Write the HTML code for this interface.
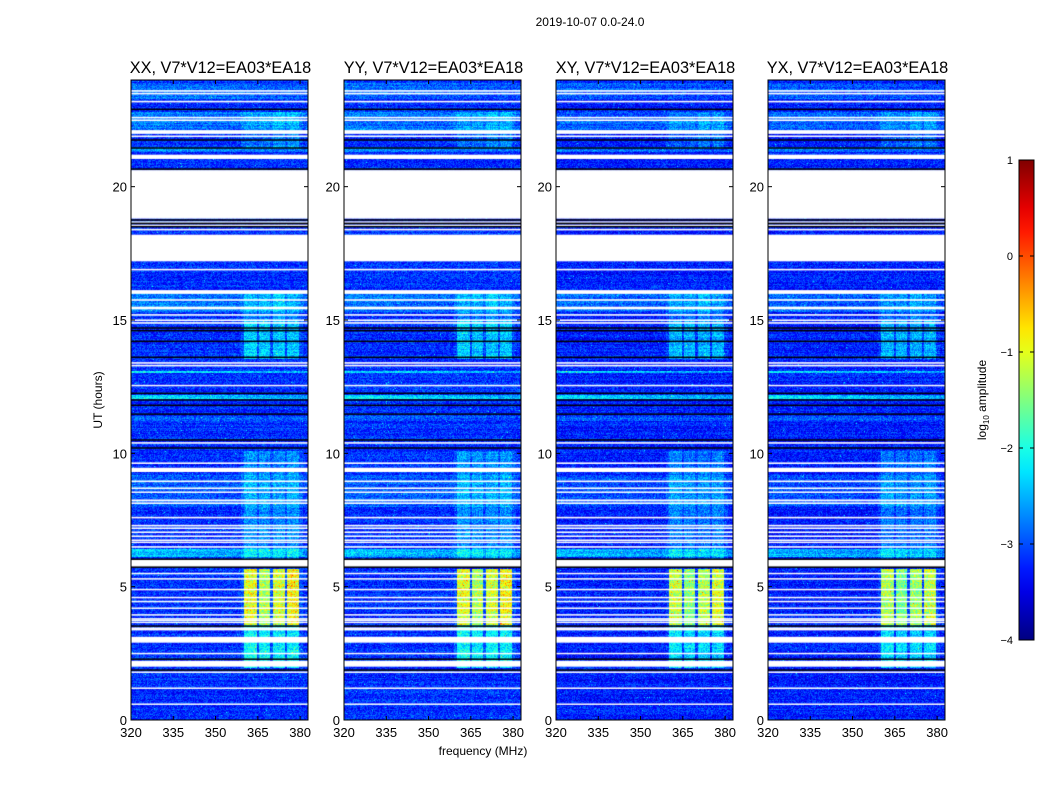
<!DOCTYPE html>
<html><head><meta charset="utf-8">
<style>
body{margin:0;background:#fff;font-family:"Liberation Sans","DejaVu Sans",sans-serif;}
#root{position:relative;width:1050px;height:800px;overflow:hidden;background:#fff;}
canvas{position:absolute;}
svg{position:absolute;left:0;top:0;}
</style></head>
<body>
<div id="root">
<svg id="ov" width="1050" height="800"></svg>
</div>
<script>
// ---- data ----
const panelNames = ["XX","YY","XY","YX"];
const panelOffsets = [0.0, 0.0, -0.08, -0.08];
const rfiScale = [1.0, 1.0, 0.95, 0.9];
const freqTicks = [320,335,350,365,380];
const hourTicks = [0,5,10,15,20];
const cbTicks = [1,0,-1,-2,-3,-4];
const freqMin = 320, freqMax = 382.8, hourMin = 0, hourMax = 24;
const vMin = -4, vMax = 1;
const baseLevel = -3.15;
// flagged (white) time ranges [start,end] hours
const flagRanges = [[23.62,23.56],[23.52,23.46],[23.22,23.16],[22.62,22.56],[22.52,22.46],[22.12,21.98],[21.92,21.86],
 [21.2,21.04],[20.62,18.8],[18.7,18.66],[18.58,18.54],[18.42,18.36],[18.2,17.2],[16.92,16.86],[16.12,15.98],[15.78,15.72],
 [15.5,15.4],[15.22,15.16],[15.02,14.96],[14.92,14.86],[13.42,13.36],[13.32,13.26],[12.57,12.52],[10.42,10.36],
 [9.66,9.6],[9.46,9.3],[8.98,8.92],[8.72,8.66],[8.57,8.52],[8.27,8.2],[8.16,8.1],[7.62,7.56],[7.32,7.26],[7.22,7.16],
 [7.07,7.01],[6.92,6.86],[6.77,6.71],[6.69,6.64],[6.52,6.46],[6.02,5.74],[5.52,5.48],[5.32,5.28],[4.92,4.88],[4.62,4.58],
 [4.47,4.43],[4.22,4.18],[3.97,3.93],[3.82,3.78],[3.77,3.73],[3.69,3.65],[3.47,3.36],[3.12,2.9],[2.52,2.47],[2.22,2.0],
 [1.82,1.77],[1.22,1.17],[0.62,0.57]];
// black (dark) flagged lines, hours
const darkLines = [22.9,21.75,21.45,20.66,18.75,18.62,18.5,14.7,14.6,14.2,13.6,12.25,12.0,11.8,11.47,10.5,10.2,6.03,5.73,3.52,2.28,1.87];
// time ranges with elevated broadband level [start,end,boost]
const rowBoosts = [[23.9,23.3,0.35],[22.8,22.1,0.35],[21.5,21.3,0.5],[16.1,15.3,0.4],[13.1,13.0,1.0],[12.2,12.05,1.0],
 [11.4,11.2,0.3],[9.2,8.0,0.25],[6.4,6.1,0.8]];
// RFI channel bands [startMHz,endMHz]
const rfiBands = [[360,364.8],[365.5,369.3],[370.5,374.5],[375.5,379.5]];
// RFI time segments [start,end,level above base for each band]
const rfiSegs = [[5.65,3.55,[2.0,1.7,1.9,2.1]],[3.55,1.95,[0.9,0.8,0.8,0.8]],[10.1,5.9,[0.35,0.3,0.3,0.35]],
 [15.0,13.55,[0.65,0.6,0.6,0.6]],[16.0,15.0,[0.25,0.25,0.4,0.25]],[22.8,21.4,[0.15,0.15,0.3,0.3]]];

// ---- layout ----
const panelX = [131,344,556,768], panelW = 177, plotTop = 80, plotH = 640;
const fx = f => (f-freqMin)/(freqMax-freqMin)*panelW;
const hy = h => plotH - (h-hourMin)/(hourMax-hourMin)*plotH;

function jet(v){
  let t=(v-vMin)/(vMax-vMin); t=Math.max(0,Math.min(1,t));
  const c=x=>Math.max(0,Math.min(1,x));
  return [c(1.5-Math.abs(4*t-3))*255, c(1.5-Math.abs(4*t-2))*255, c(1.5-Math.abs(4*t-1))*255];
}
function hash(a,b,c){let x=(a*374761393+b*668265263+c*2147483647)|0;x=(x^(x>>>13))*1274126177|0;x=x^(x>>>16);return ((x>>>0)%10000)/10000;}

const root=document.getElementById('root');
panelNames.forEach((name,p)=>{
  const cv=document.createElement('canvas');
  
  
  cv.width=panelW; cv.height=plotH;
  cv.style.left=panelX[p]+'px'; cv.style.top=plotTop+'px';
  root.insertBefore(cv, document.getElementById('ov'));
  const ctx=cv.getContext('2d'); const img=ctx.createImageData(panelW,plotH);
  for(let y=0;y<plotH;y++){
    const h=hourMax-(y+0.5)/plotH*(hourMax-hourMin);
    let boost=0; rowBoosts.forEach(r=>{if(h<=r[0]&&h>=r[1])boost+=r[2];});
    let seg=null; rfiSegs.forEach(s=>{if(h<=s[0]&&h>=s[1])seg=s;});
    const rowN=(hash(y,p,7)-0.5)*0.25;
    for(let x=0;x<panelW;x++){
      const f=freqMin+(x+0.5)/panelW*(freqMax-freqMin);
      let v=baseLevel+panelOffsets[p]+boost*(1-0.4*(f-freqMin)/(freqMax-freqMin))+rowN+(hash(x,y,p)-0.5)*0.7;
      if(hash(x+11,y*3,p)>0.995) v+=0.8;
      if(seg){rfiBands.forEach((b,i)=>{if(f>=b[0]&&f<=b[1]) v+=seg[2][i]*rfiScale[p]*(0.8+0.4*hash(x*5,y,p+3));});
        if(f>=359&&f<=381) v+=0.15;}
      const [r,g,bb]=jet(v); const k=(y*panelW+x)*4;
      img.data[k]=r;img.data[k+1]=g;img.data[k+2]=bb;img.data[k+3]=255;
    }
  }
  ctx.putImageData(img,0,0);
  ctx.fillStyle='#fff';
  flagRanges.forEach(r=>{const y0=hy(r[0]),y1=hy(r[1]);ctx.fillRect(0,y0,panelW,Math.max(1.5,y1-y0));});
  ctx.fillStyle='#000';
  darkLines.forEach(h=>{ctx.fillRect(0,hy(h)-0.75,panelW,1.5);});
});

// ---- overlay (axes, labels) ----
const ov=document.getElementById('ov'); const NS='http://www.w3.org/2000/svg';
function el(tag,attrs,txt){const e=document.createElementNS(NS,tag);for(const k in attrs)e.setAttribute(k,attrs[k]);if(txt!==undefined)e.textContent=txt;ov.appendChild(e);return e;}
let t=el('text',{x:590,y:26,'text-anchor':'middle','font-size':12,fill:'#000'},'2019-10-07 0.0-24.0');


panelNames.forEach((name,p)=>{
  const x0=panelX[p];
  const fr=el('rect',{x:x0,y:plotTop,width:panelW,height:plotH,fill:'none',stroke:'#000','stroke-width':1});
  
  
  const pt=el('text',{x:x0+panelW/2+1,y:73,'text-anchor':'middle','font-size':16.3,fill:'#000'},name+', V7*V12=EA03*EA18');
  
  
  freqTicks.forEach(f=>{
    const x=x0+fx(f);
    el('line',{x1:x,x2:x,y1:plotTop+plotH,y2:plotTop+plotH-4,stroke:'#000'});
    el('line',{x1:x,x2:x,y1:plotTop,y2:plotTop+4,stroke:'#000'});
    const tl=el('text',{x:x,y:737,'text-anchor':'middle','font-size':13,fill:'#000'},String(f));
    
    
  });
  hourTicks.forEach(h=>{
    const y=plotTop+hy(h);
    el('line',{x1:x0,x2:x0+4,y1:y,y2:y,stroke:'#000'});
    el('line',{x1:x0+panelW,x2:x0+panelW-4,y1:y,y2:y,stroke:'#000'});
    const tl=el('text',{x:x0-4,y:y+5,'text-anchor':'end','font-size':13,fill:'#000'},String(h));
    
    
  });
});
let xl=el('text',{x:483,y:755,'text-anchor':'middle','font-size':12,fill:'#000'},'frequency (MHz)');


let yl=el('text',{x:0,y:0,'text-anchor':'middle','font-size':12,fill:'#000',transform:'translate(102,400) rotate(-90)'},'UT (hours)');


// colorbar
const defs=el('defs',{}); const lg=document.createElementNS(NS,'linearGradient');
lg.setAttribute('id','jetg');lg.setAttribute('x1','0');lg.setAttribute('y1','1');lg.setAttribute('x2','0');lg.setAttribute('y2','0');
defs.appendChild(lg);
for(let i=0;i<=20;i++){const v=vMin+i/20*(vMax-vMin);const c=jet(v);const s=document.createElementNS(NS,'stop');
  s.setAttribute('offset',i/20);s.setAttribute('stop-color','rgb('+c.map(Math.round).join(',')+')');lg.appendChild(s);}
const cbTop=160,cbH=480,cbX=1019,cbW=15;
let cb=el('rect',{x:cbX,y:cbTop,width:cbW,height:cbH,fill:'url(#jetg)',stroke:'#000','stroke-width':1});


cbTicks.forEach(v=>{
  const y=cbTop+(vMax-v)/(vMax-vMin)*cbH;
  el('line',{x1:cbX,x2:cbX+4,y1:y,y2:y,stroke:'#000'});
  el('line',{x1:cbX+cbW,x2:cbX+cbW-4,y1:y,y2:y,stroke:'#000'});
  const tl=el('text',{x:1013,y:y+4,'text-anchor':'end','font-size':11,fill:'#000'},v<0?'\u2212'+(-v):String(v));
  
  
});
const cl=el('text',{x:0,y:0,'text-anchor':'middle','font-size':12,fill:'#000',transform:'translate(986,400) rotate(-90)'});


cl.innerHTML='log<tspan font-size="8" dy="3">10</tspan><tspan dy="-3"> amplitude</tspan>';
</script>
</body></html>
